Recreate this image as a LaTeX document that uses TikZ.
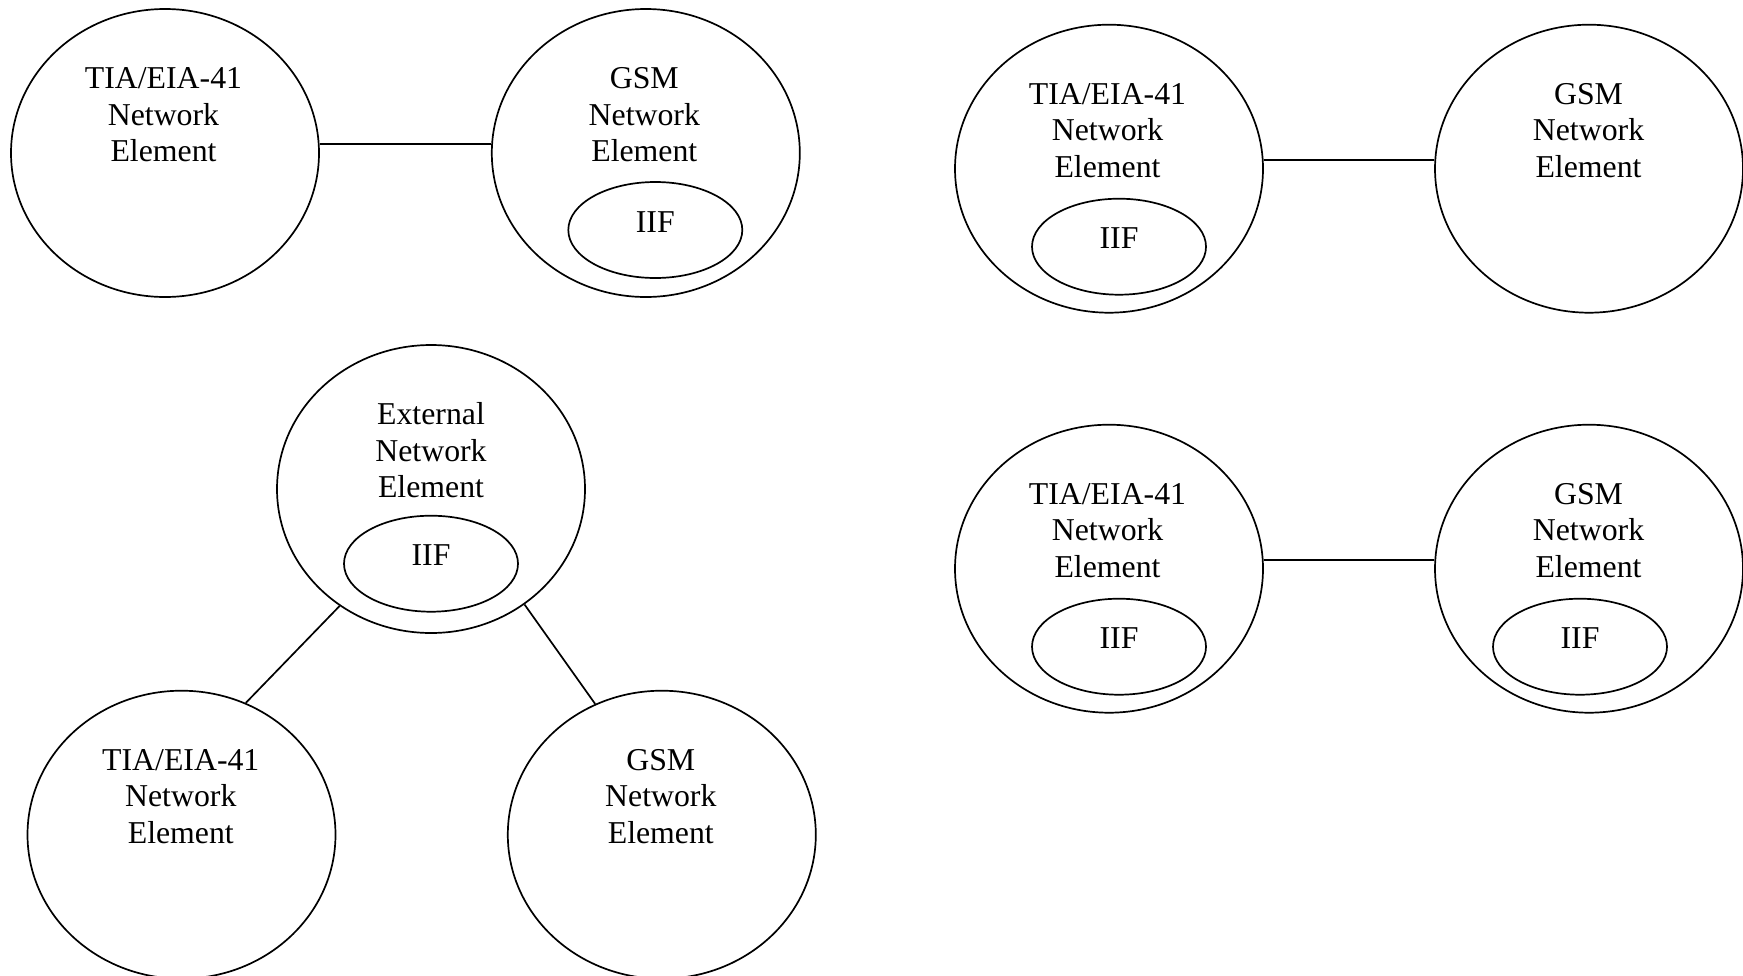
\documentclass[tikz,border=0pt]{standalone}
\usepackage{fontspec}
\setmainfont{Liberation Serif}
\usetikzlibrary{shapes.geometric,calc}
\begin{document}
\begin{tikzpicture}[x=0.5pt,y=-0.5pt,
  ne/.style={draw, ellipse, line width=0.85pt, minimum width=154pt, minimum height=144pt, inner sep=0pt},
  iif/.style={draw, ellipse, line width=0.85pt, minimum width=87pt, minimum height=48pt, inner sep=0pt,
    font=\fontsize{15.9}{18.35}\selectfont, text height=10.5pt, text depth=8.5pt},
  lbl/.style={anchor=north, inner sep=0pt, align=center, font=\fontsize{15.9}{18.35}\selectfont},
  link/.style={line width=0.85pt}]
\useasboundingbox (0,0) rectangle (1743,975);

% top-left pair
\node[ne] (tl) at (165,153) {};
\node[ne] (tg) at (645.8,153) {};
\node[lbl] (tlt) at ($(tl)+(-1.5,-90.7)$) {\strut TIA/EIA-41\\\strut Network\\\strut Element};
\node[lbl] (tgt) at ($(tg)+(-1.5,-90.7)$) {\strut GSM\\\strut Network\\\strut Element};
\node[iif] (tgi) at (655.3,230) {IIF};
\draw[link] ([yshift=4.5pt]tl.east) -- ([yshift=4.5pt]tg.west);

% top-right pair
\node[ne] (rt1) at (1109,168.7) {};
\node[ne] (rg1) at (1589,168.7) {};
\node[lbl] (rt1t) at ($(rt1)+(-1.5,-90.7)$) {\strut TIA/EIA-41\\\strut Network\\\strut Element};
\node[lbl] (rg1t) at ($(rg1)+(-0.5,-90.7)$) {\strut GSM\\\strut Network\\\strut Element};
\node[iif] (rt1i) at (1119,246.7) {IIF};
\draw[link] ([yshift=4.5pt]rt1.east) -- ([yshift=4.5pt]rg1.west);

% middle-right pair
\node[ne] (rt2) at (1109,568.7) {};
\node[ne] (rg2) at (1589,568.7) {};
\node[lbl] (rt2t) at ($(rt2)+(-1.5,-90.7)$) {\strut TIA/EIA-41\\\strut Network\\\strut Element};
\node[lbl] (rg2t) at ($(rg2)+(-0.5,-90.7)$) {\strut GSM\\\strut Network\\\strut Element};
\node[iif] (rt2i) at (1119,646.7) {IIF};
\node[iif] (rg2i) at (1580,646.7) {IIF};
\draw[link] ([yshift=4.5pt]rt2.east) -- ([yshift=4.5pt]rg2.west);

% external + bottom pair
\node[ne] (ext) at (431,489) {};
\node[lbl] (extt) at ($(ext)+(0,-90.7)$) {\strut External\\\strut Network\\\strut Element};
\node[iif] (exti) at (431,563.7) {IIF};
\node[ne] (bt) at (181.5,834.7) {};
\node[ne] (bg) at (661.8,834.7) {};
\node[lbl] (btt) at ($(bt)+(-0.7,-90.7)$) {\strut TIA/EIA-41\\\strut Network\\\strut Element};
\node[lbl] (bgt) at ($(bg)+(-1,-90.7)$) {\strut GSM\\\strut Network\\\strut Element};
\draw[link] (ext.232.3) -- (bt.64);
\draw[link] (ext.309.9) -- (bg.117.7);
\end{tikzpicture}
\end{document}
